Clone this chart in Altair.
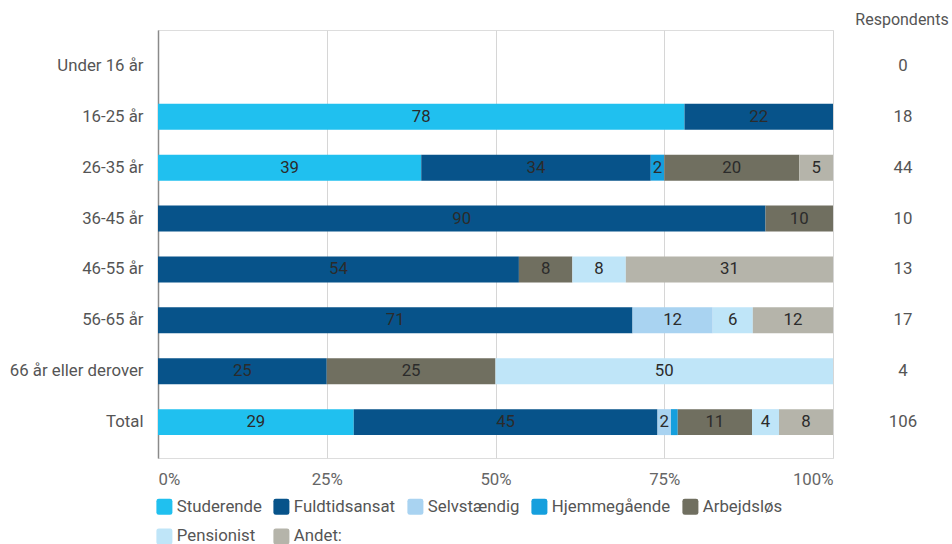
import altair as alt
import pandas as pd

ages = ["Under 16 år", "16-25 år", "26-35 år", "36-45 år", "46-55 år",
        "56-65 år", "66 år eller derover", "Total"]
statuses = ["Studerende", "Fuldtidsansat", "Selvstændig", "Hjemmegående",
            "Arbejdsløs", "Pensionist", "Andet:"]
colors = ["#20c0ef", "#07538a", "#a9d3f1", "#159fdd", "#706f60", "#bfe5f8", "#b5b4aa"]

studerende = [0, 78, 39, 0, 0, 0, 0, 29]
fuldtidsansat = [0, 22, 34, 90, 54, 71, 25, 45]
selvstaendig = [0, 0, 0, 0, 0, 12, 0, 2]
hjemmegaaende = [0, 0, 2, 0, 0, 0, 0, 1]
arbejdsloes = [0, 0, 20, 10, 8, 0, 25, 11]
pensionist = [0, 0, 0, 0, 8, 6, 50, 4]
andet = [0, 0, 5, 0, 31, 12, 0, 8]
respondents = [0, 18, 44, 10, 13, 17, 4, 106]

series = [studerende, fuldtidsansat, selvstaendig, hjemmegaaende,
          arbejdsloes, pensionist, andet]

rows = []
for si, (name, vals) in enumerate(zip(statuses, series)):
    for age, v in zip(ages, vals):
        rows.append({"age": age, "status": name, "value": v, "order": si})
df = pd.DataFrame(rows)
resp_df = pd.DataFrame({"age": ages, "resp": respondents})

FONT = "Roboto"
FS = 16.8
yscale = alt.Scale(domain=ages, paddingInner=0.49, paddingOuter=0.45)

rounded = ("M -0.7 -1 L 0.7 -1 Q 1 -1 1 -0.7 L 1 0.7 Q 1 1 0.7 1 "
           "L -0.7 1 Q -1 1 -1 0.7 L -1 -0.7 Q -1 -1 -0.7 -1 Z")

base = alt.Chart(df).transform_filter("datum.value > 0").transform_stack(
    stack="value", groupby=["age"], as_=["x0", "x1"], offset="normalize",
    sort=[alt.SortField("order", order="ascending")]
)

bars = base.mark_bar().encode(
    y=alt.Y("age:N", scale=yscale, title=None,
            axis=alt.Axis(domain=True, domainColor="#8a8a8a", domainWidth=1.5,
                          ticks=False, grid=False, labelFontSize=FS,
                          labelColor="#555555", labelPadding=15, labelFont=FONT)),
    x=alt.X("x0:Q", scale=alt.Scale(domain=[0, 1], nice=False), title=None,
            axis=alt.Axis(values=[0, 0.25, 0.5, 0.75, 1], format=".0%",
                          domain=False, ticks=False, grid=True, gridColor="#d6d6d6",
                          labelFontSize=FS, labelColor="#666666", labelPadding=13,
                          labelFlush=True, labelFont=FONT)),
    x2="x1:Q",
    color=alt.Color("status:N", scale=alt.Scale(domain=statuses, range=colors),
                    legend=alt.Legend(title=None, orient="none", legendX=-2, legendY=468,
                                      columns=5, direction="horizontal",
                                      symbolType=rounded, symbolSize=256,
                                      symbolStrokeWidth=0, labelFontSize=FS,
                                      labelColor="#555555", labelFont=FONT,
                                      labelOffset=4, columnPadding=11,
                                      rowPadding=12)),
    order=alt.Order("order:Q"),
)

labels = base.transform_filter("datum.value >= 2").transform_calculate(
    mid="(datum.x0 + datum.x1) / 2"
).mark_text(fontSize=FS, color="#2b2b2b", font=FONT).encode(
    y=alt.Y("age:N", scale=yscale),
    x=alt.X("mid:Q"),
    text=alt.Text("value:Q"),
)

resp = alt.Chart(resp_df).mark_text(fontSize=FS, color="#555555", font=FONT).encode(
    y=alt.Y("age:N", scale=yscale),
    x=alt.value(745),
    text=alt.Text("resp:Q"),
)

header = alt.Chart(pd.DataFrame({"t": ["Respondents"]})).mark_text(
    fontSize=FS - 0.8, color="#555555", font=FONT
).encode(x=alt.value(744), y=alt.value(-10), text="t:N")

chart = alt.layer(bars, labels, resp, header).properties(
    width=675, height=428,
    autosize=alt.AutoSizeParams(type="none"),
    padding={"left": 158, "top": 30, "right": 119, "bottom": 86},
).configure_view(stroke=None).configure(background="white")

chart.save("out.html", embed_options={"renderer": "svg", "actions": False})
